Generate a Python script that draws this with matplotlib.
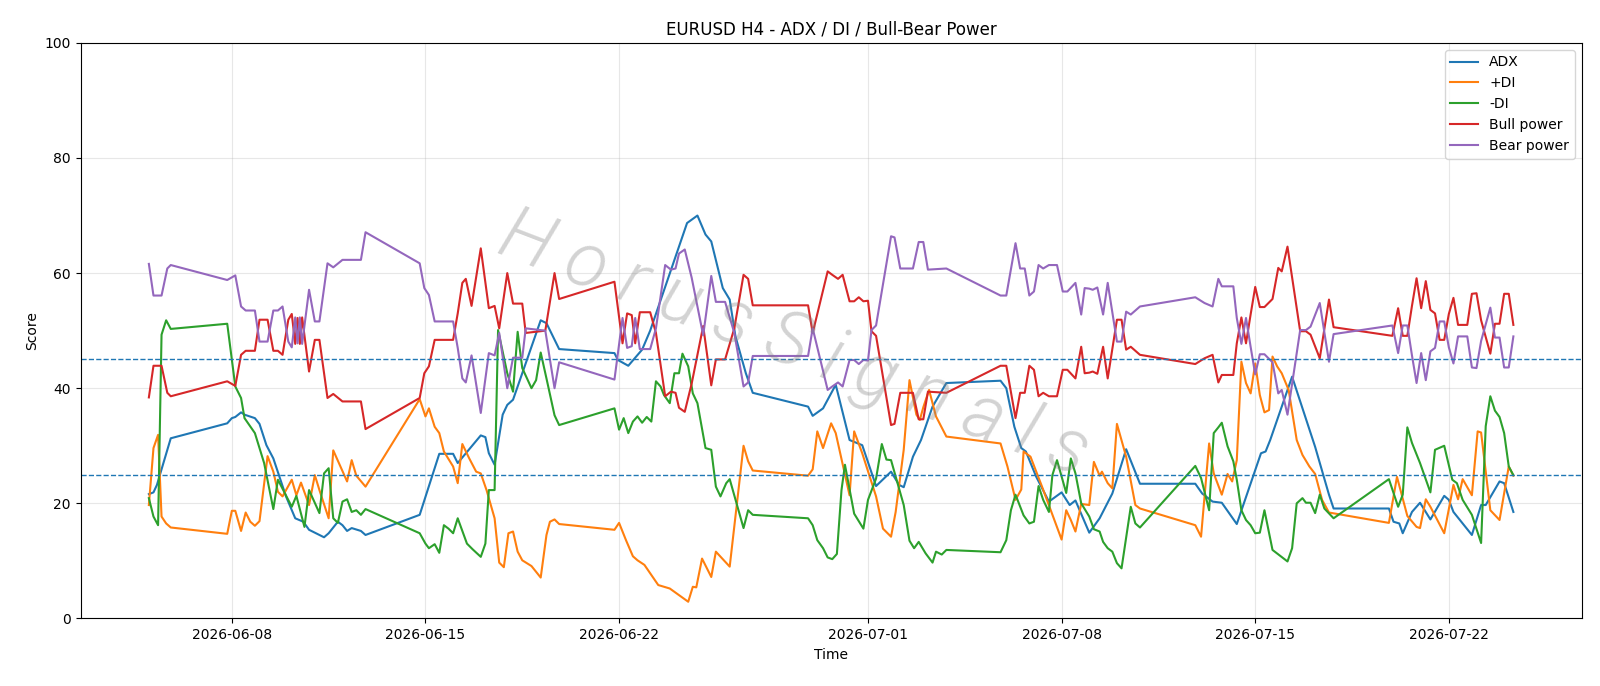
import pandas as pd
import matplotlib
matplotlib.use("Agg")
import matplotlib.pyplot as plt

# hours since 2026-06-05 00:00 for each point, one list per series
start = pd.Timestamp("2026-06-05 00:00")

adx_hours = [0, 4, 7, 19, 68, 72, 75, 80, 83, 92,
             96, 102, 108, 119, 127, 134, 139, 152, 156, 164,
             168, 172, 176, 184, 188, 235, 252, 264, 268, 288,
             292, 295, 300, 307, 311, 316, 340, 345, 356, 404,
             407, 416, 428, 435, 467, 476, 483, 488, 498, 504,
             509, 518, 524, 572, 576, 585, 596, 608, 619, 631,
             644, 651, 655, 663, 670, 680, 692, 739, 744, 751,
             757, 761, 770, 781, 792, 799, 804, 816, 825, 836,
             848, 860, 908, 914, 923, 931, 944, 965, 969, 973,
             992, 1012, 1024, 1028, 1076, 1080, 1085, 1088, 1096, 1103,
             1112, 1124, 1128, 1132, 1148, 1156, 1160, 1172, 1176, 1184]
adx = [21.6, 21.9, 23.2, 31.3, 33.9, 34.8, 35.0, 35.8, 35.4, 34.8,
       33.8, 30.1, 27.8, 21.2, 17.4, 16.8, 15.4, 14.1, 14.8, 16.8,
       16.2, 15.2, 15.7, 15.2, 14.5, 18.0, 28.6, 28.6, 27.0, 31.8,
       31.5, 28.7, 26.7, 35.4, 37.1, 38.0, 51.8, 51.3, 46.8, 46.1,
       44.9, 43.9, 46.7, 50.0, 68.7, 70.0, 66.7, 65.5, 57.4, 55.4,
       49.0, 42.6, 39.2, 36.8, 35.2, 36.5, 40.6, 31.0, 30.1, 23.0,
       25.5, 23.2, 22.8, 28.1, 31.0, 36.8, 40.9, 41.3, 40.0, 33.3,
       29.6, 29.0, 24.6, 20.3, 21.9, 19.7, 20.5, 14.9, 17.4, 21.7,
       29.4, 23.4, 23.4, 21.7, 20.3, 20.1, 16.4, 28.7, 29.0, 31.0,
       42.0, 29.8, 21.5, 19.1, 19.1, 16.8, 16.5, 14.8, 18.5, 20.1,
       17.2, 21.3, 20.6, 18.5, 14.5, 19.7, 19.7, 23.8, 23.5, 18.5]

pdi_hours = [0, 4, 8, 11, 15, 19, 68, 72, 75, 80,
             84, 88, 92, 96, 103, 108, 112, 116, 124, 128,
             132, 139, 144, 148, 156, 160, 172, 176, 180, 188,
             235, 240, 243, 248, 252, 256, 264, 268, 272, 278,
             284, 288, 293, 300, 304, 308, 312, 316, 320, 324,
             332, 336, 340, 345, 348, 352, 356, 404, 408, 414,
             420, 424, 430, 442, 452, 468, 472, 475, 480, 488,
             492, 504, 516, 520, 524, 572, 576, 580, 585, 592,
             596, 608, 612, 619, 631, 637, 644, 648, 655, 660,
             666, 669, 672, 677, 683, 692, 739, 745, 752, 757,
             759, 765, 775, 792, 796, 800, 804, 809, 816, 820,
             825, 827, 832, 836, 840, 848, 856, 860, 908, 913,
             920, 924, 931, 936, 940, 944, 948, 952, 956, 960,
             964, 968, 972, 975, 979, 983, 989, 996, 1001, 1007,
             1012, 1018, 1024, 1076, 1083, 1092, 1100, 1103, 1108, 1112,
             1124, 1132, 1136, 1140, 1148, 1153, 1156, 1164, 1172, 1180,
             1184]
plus_di = [19.7, 29.6, 31.9, 17.7, 16.5, 15.8, 14.7, 18.7, 18.7, 15.2,
           18.4, 16.8, 16.1, 16.9, 28.2, 25.5, 22.0, 21.2, 24.1, 21.4,
           23.6, 19.7, 24.9, 22.3, 17.4, 29.2, 23.8, 27.5, 24.8, 22.9,
           38.1, 35.1, 36.5, 33.3, 32.2, 29.0, 26.4, 23.5, 30.3, 27.8,
           25.5, 25.2, 22.3, 17.4, 9.7, 8.9, 14.8, 15.1, 11.6, 10.1,
           9.1, 8.1, 7.1, 14.5, 16.8, 17.2, 16.4, 15.4, 16.6, 13.6,
           10.8, 10.1, 9.3, 5.8, 5.2, 2.9, 5.5, 5.4, 10.4, 7.2,
           11.6, 9.0, 30.0, 27.3, 25.7, 24.8, 25.9, 32.5, 29.6, 33.9,
           32.2, 21.4, 32.5, 28.7, 21.2, 15.6, 14.2, 18.5, 29.3, 41.4,
           35.4, 34.5, 36.7, 39.7, 35.1, 31.6, 30.4, 26.4, 20.6, 22.4,
           29.0, 28.1, 22.9, 13.7, 18.8, 17.1, 15.1, 19.9, 19.7, 27.2,
           24.8, 25.5, 23.5, 22.6, 33.8, 28.1, 19.7, 19.1, 16.2, 14.2,
           30.4, 25.2, 21.5, 25.1, 23.8, 27.5, 44.6, 40.9, 39.1, 44.3,
           38.8, 35.8, 36.2, 45.5, 43.8, 42.6, 39.7, 31.0, 28.4, 26.4,
           25.1, 20.6, 18.4, 16.6, 24.6, 17.8, 15.9, 15.7, 20.7, 19.4,
           14.8, 23.2, 20.7, 24.2, 21.4, 32.5, 32.3, 18.8, 17.1, 26.4,
           24.8]

mdi_hours = [0, 4, 8, 11, 15, 19, 68, 75, 80, 83,
             92, 100, 108, 112, 124, 128, 135, 139, 148, 152,
             156, 160, 164, 168, 172, 176, 180, 184, 188, 235,
             240, 243, 248, 252, 256, 260, 264, 268, 276, 281,
             288, 292, 295, 300, 303, 311, 316, 320, 324, 332,
             336, 340, 345, 352, 356, 404, 408, 412, 416, 420,
             424, 428, 432, 436, 440, 444, 447, 452, 456, 460,
             463, 468, 472, 476, 483, 488, 492, 496, 501, 504,
             516, 520, 524, 572, 576, 580, 585, 589, 593, 597,
             601, 604, 612, 620, 624, 631, 636, 640, 644, 655,
             660, 664, 668, 674, 680, 683, 688, 692, 739, 744,
             748, 752, 759, 764, 768, 772, 776, 781, 784, 788,
             796, 800, 804, 809, 816, 820, 825, 828, 832, 836,
             840, 844, 852, 856, 860, 908, 913, 920, 924, 928,
             931, 936, 941, 944, 948, 952, 956, 960, 964, 968,
             975, 988, 992, 996, 1001, 1004, 1008, 1012, 1016, 1020,
             1028, 1076, 1084, 1088, 1092, 1096, 1103, 1112, 1116, 1124,
             1131, 1135, 1140, 1148, 1156, 1160, 1164, 1168, 1172, 1176,
             1180, 1184]
minus_di = [20.9, 17.7, 16.2, 49.3, 51.8, 50.3, 51.2, 40.3, 38.3, 34.8,
            32.2, 27.0, 19.0, 24.1, 19.4, 21.3, 15.9, 22.3, 18.3, 25.2,
            26.1, 17.4, 16.6, 20.3, 20.7, 18.5, 18.8, 18.0, 19.0, 14.8,
            13.0, 12.2, 12.9, 11.4, 16.2, 15.6, 14.8, 17.4, 13.0, 12.0,
            10.7, 13.0, 22.3, 22.3, 50.1, 42.6, 39.4, 49.8, 43.5, 40.0,
            41.4, 46.2, 41.7, 35.3, 33.6, 36.5, 32.8, 34.8, 32.2, 34.2,
            35.1, 34.0, 35.0, 34.2, 41.2, 40.3, 38.8, 37.4, 42.6, 42.6,
            46.0, 43.8, 39.1, 37.4, 29.6, 29.3, 22.9, 21.2, 23.5, 24.2,
            15.7, 18.8, 18.0, 17.4, 16.2, 13.6, 12.2, 10.6, 10.3, 11.2,
            22.3, 26.7, 18.2, 15.6, 20.6, 24.3, 30.3, 27.6, 27.5, 19.7,
            13.5, 12.2, 13.3, 11.3, 9.7, 11.6, 11.1, 11.9, 11.5, 13.6,
            18.8, 21.5, 17.9, 16.5, 16.8, 23.0, 20.6, 18.5, 24.9, 27.5,
            21.8, 27.8, 25.2, 20.0, 17.7, 15.5, 15.1, 13.3, 12.2, 11.6,
            9.6, 8.7, 19.4, 16.5, 15.8, 26.5, 24.4, 18.8, 32.2, 33.2,
            34.0, 29.9, 27.3, 24.1, 18.8, 17.1, 16.2, 14.8, 14.9, 18.8,
            11.9, 9.9, 12.2, 20.0, 20.9, 20.1, 20.1, 18.3, 21.5, 19.1,
            17.4, 24.2, 19.4, 21.5, 33.2, 30.5, 27.0, 21.9, 29.3, 30.0,
            24.1, 23.5, 20.6, 18.0, 13.1, 33.4, 38.6, 36.1, 35.0, 32.2,
            26.4, 24.9]

power_hours = [0, 4, 11, 16, 19, 68, 75, 80, 84, 92,
               96, 103, 108, 112, 116, 121, 124, 127, 129, 131,
               133, 139, 144, 148, 155, 160, 168, 184, 188, 235,
               239, 243, 248, 264, 268, 272, 275, 280, 288, 295,
               300, 304, 311, 316, 324, 327, 344, 352, 356, 404,
               411, 415, 419, 422, 426, 435, 440, 448, 453, 457,
               460, 465, 471, 481, 488, 492, 500, 508, 516, 520,
               524, 572, 576, 589, 593, 598, 602, 608, 612, 616,
               620, 624, 627, 631, 644, 647, 652, 663, 668, 672,
               676, 692, 739, 744, 752, 756, 760, 764, 768, 772,
               776, 781, 788, 793, 797, 804, 809, 812, 816, 819,
               823, 828, 832, 840, 844, 848, 852, 860, 908, 916,
               923, 928, 931, 941, 944, 948, 952, 956, 960, 964,
               968, 975, 980, 983, 988, 999, 1004, 1008, 1016, 1024,
               1028, 1079, 1084, 1088, 1092, 1096, 1100, 1104, 1108, 1112,
               1116, 1120, 1124, 1128, 1132, 1136, 1144, 1148, 1152, 1156,
               1164, 1168, 1172, 1176, 1180, 1184]
bull_power = [38.4, 43.9, 43.9, 39.2, 38.6, 41.2, 40.4, 45.8, 46.5, 46.5,
              51.9, 51.9, 46.5, 46.5, 45.8, 51.9, 52.9, 47.7, 52.2, 47.7,
              52.3, 42.9, 48.4, 48.4, 38.3, 39.0, 37.7, 37.7, 32.9, 38.3,
              42.6, 43.8, 48.4, 48.4, 53.0, 58.3, 59.0, 54.3, 64.3, 53.9,
              54.3, 50.4, 60.0, 54.7, 54.7, 49.6, 50.0, 60.0, 55.5, 58.5,
              47.8, 53.0, 52.7, 47.8, 53.2, 53.2, 49.6, 38.6, 39.4, 39.2,
              36.6, 35.9, 40.8, 50.8, 40.5, 45.0, 45.0, 50.4, 59.7, 59.0,
              54.4, 54.4, 49.6, 60.3, 59.7, 59.0, 59.7, 55.1, 55.1, 55.8,
              55.1, 55.2, 49.9, 49.1, 33.6, 33.8, 39.2, 39.2, 34.6, 34.6,
              39.4, 39.2, 43.9, 43.9, 34.8, 39.2, 39.2, 43.9, 43.2, 38.6,
              39.2, 38.6, 38.6, 43.2, 43.2, 41.7, 47.2, 42.6, 42.7, 42.9,
              42.5, 47.2, 41.7, 51.9, 51.9, 46.7, 47.2, 45.8, 44.2, 45.2,
              45.8, 41.0, 42.3, 42.3, 47.8, 52.3, 47.8, 52.8, 57.6, 54.1,
              54.1, 55.5, 60.9, 60.3, 64.6, 49.9, 49.9, 49.3, 45.2, 55.4,
              50.6, 49.1, 53.9, 49.1, 49.1, 54.3, 59.1, 53.9, 58.6, 53.6,
              53.0, 48.4, 48.4, 52.9, 55.7, 51.0, 51.0, 56.4, 56.5, 51.8,
              46.0, 51.2, 51.2, 56.4, 56.4, 51.0]
bear_power = [61.6, 56.1, 56.1, 60.8, 61.4, 58.8, 59.6, 54.2, 53.5, 53.5,
              48.1, 48.1, 53.5, 53.5, 54.2, 48.1, 47.1, 52.3, 47.8, 52.3,
              47.7, 57.1, 51.6, 51.6, 61.7, 61.0, 62.3, 62.3, 67.1, 61.7,
              57.4, 56.2, 51.6, 51.6, 47.0, 41.7, 41.0, 45.7, 35.7, 46.1,
              45.7, 49.6, 40.0, 45.3, 45.3, 50.4, 50.0, 40.0, 44.5, 41.5,
              52.2, 47.0, 47.3, 52.2, 46.8, 46.8, 50.4, 61.4, 60.6, 60.8,
              63.4, 64.1, 59.2, 49.2, 59.5, 55.0, 55.0, 49.6, 40.3, 41.0,
              45.6, 45.6, 50.4, 39.7, 40.3, 41.0, 40.3, 44.9, 44.9, 44.2,
              44.9, 44.8, 50.1, 50.9, 66.4, 66.2, 60.8, 60.8, 65.4, 65.4,
              60.6, 60.8, 56.1, 56.1, 65.2, 60.8, 60.8, 56.1, 56.8, 61.4,
              60.8, 61.4, 61.4, 56.8, 56.8, 58.3, 52.8, 57.4, 57.3, 57.1,
              57.5, 52.8, 58.3, 48.1, 48.1, 53.3, 52.8, 54.2, 55.8, 54.8,
              54.2, 59.0, 57.7, 57.7, 52.2, 47.7, 52.2, 47.2, 42.4, 45.9,
              45.9, 44.5, 39.1, 39.7, 35.4, 50.1, 50.1, 50.7, 54.8, 44.6,
              49.4, 50.9, 46.1, 50.9, 50.9, 45.7, 40.9, 46.1, 41.4, 46.4,
              47.0, 51.6, 51.6, 47.1, 44.3, 49.0, 49.0, 43.6, 43.5, 48.2,
              54.0, 48.8, 48.8, 43.6, 43.6, 49.0]

levels = [25, 45]


def to_time(hours):
    return start + pd.to_timedelta(hours, unit="h")


fig = plt.figure(figsize=(16, 6.86), dpi=100)
ax = fig.add_axes([0.0504, 0.0985, 0.9381, 0.839])

ax.plot(to_time(adx_hours), adx, label="ADX")
ax.plot(to_time(pdi_hours), plus_di, label="+DI")
ax.plot(to_time(mdi_hours), minus_di, label="-DI")
ax.plot(to_time(power_hours), bull_power, label="Bull power")
ax.plot(to_time(power_hours), bear_power, label="Bear power")

for lvl in levels:
    ax.axhline(lvl, linestyle="--", linewidth=1)

ax.set_ylim(0, 100)
ax.set_title("EURUSD H4 - ADX / DI / Bull-Bear Power")
ax.set_xlabel("Time")
ax.set_ylabel("Score")
ax.grid(True, alpha=0.3)
ax.legend(loc="upper right")

# watermark, spaced out letters in a thin italic face
ax.text(0.475, 0.475, "H o r u s S i g n a l s", transform=ax.transAxes,
        fontsize=54, rotation=-21, color="gray", alpha=0.35,
        family=["Roboto", "DejaVu Sans"], weight=300, style="italic",
        ha="center", va="center", zorder=10)

fig.savefig("out.png", dpi=100)
